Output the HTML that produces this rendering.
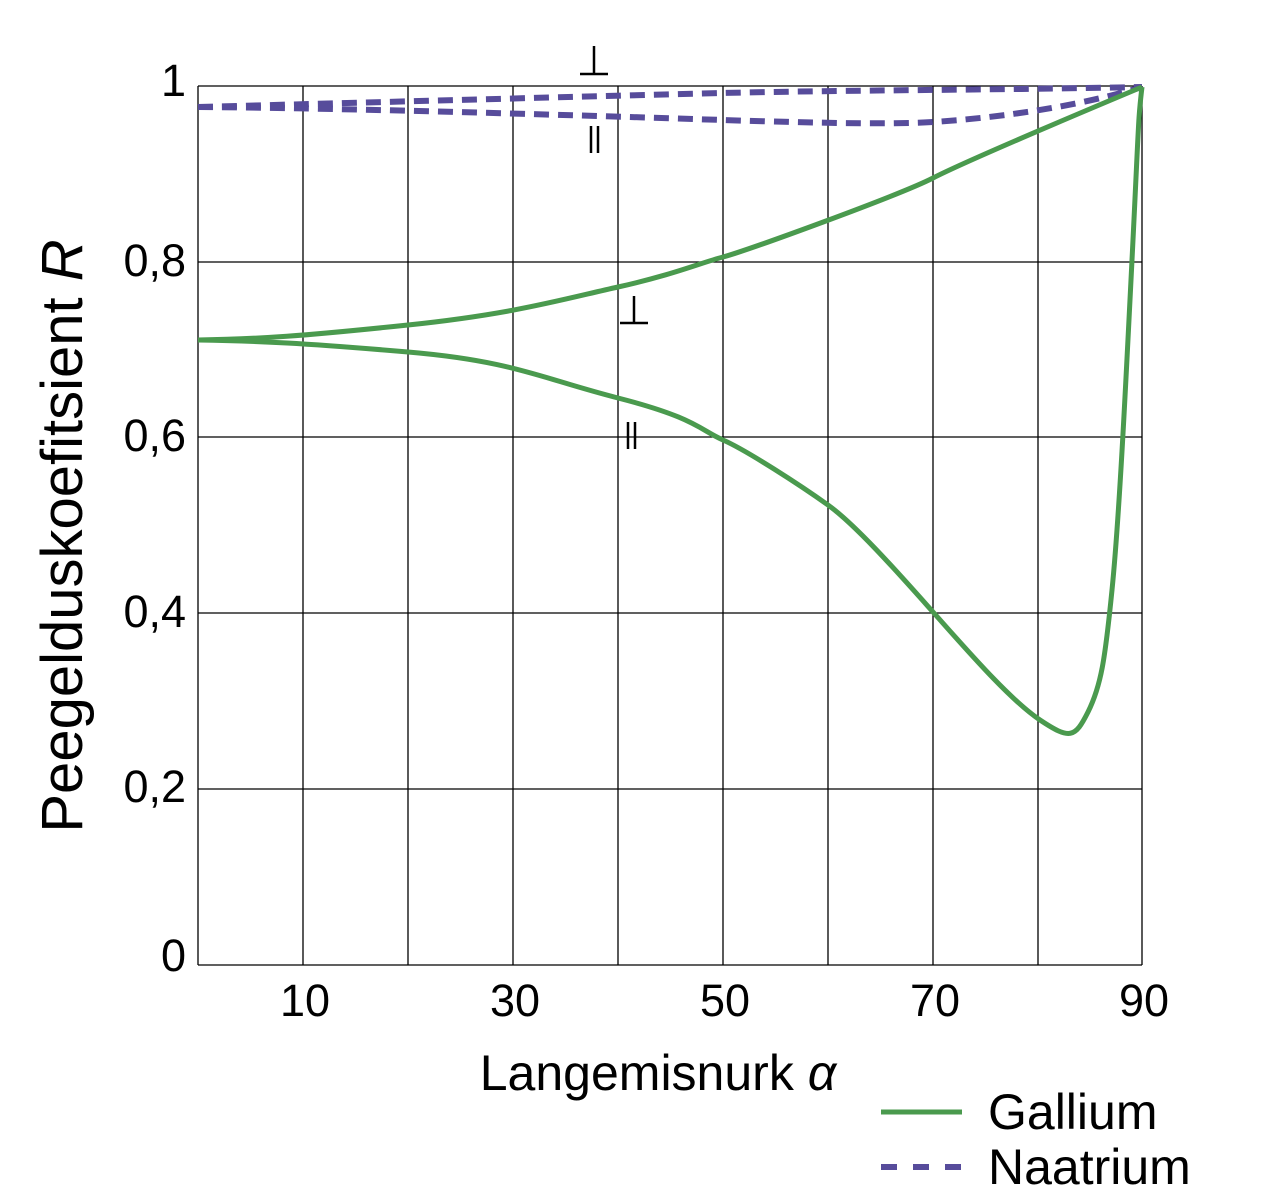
<!DOCTYPE html>
<html><head><style>body{margin:0;background:#fff}</style></head><body>
<svg width="1280" height="1194" xmlns="http://www.w3.org/2000/svg" font-family="Liberation Sans, sans-serif">
<rect width="1280" height="1194" fill="#fff"/>
<g stroke="#000" stroke-width="1.3">
<line x1="198" y1="86" x2="1142" y2="86"/><line x1="198" y1="262" x2="1142" y2="262"/><line x1="198" y1="437" x2="1142" y2="437"/><line x1="198" y1="613" x2="1142" y2="613"/><line x1="198" y1="789" x2="1142" y2="789"/><line x1="198" y1="965" x2="1142" y2="965"/>
<line x1="198" y1="86" x2="198" y2="965"/><line x1="303" y1="86" x2="303" y2="965"/><line x1="408" y1="86" x2="408" y2="965"/><line x1="513" y1="86" x2="513" y2="965"/><line x1="618" y1="86" x2="618" y2="965"/><line x1="723" y1="86" x2="723" y2="965"/><line x1="828" y1="86" x2="828" y2="965"/><line x1="933" y1="86" x2="933" y2="965"/><line x1="1038" y1="86" x2="1038" y2="965"/><line x1="1142" y1="86" x2="1142" y2="965"/>
</g>
<g fill="none" stroke="#574c9b" stroke-width="6" stroke-dasharray="15 9">
<path d="M198,107 C350,103 600,96 723,93 S1000,90 1142,87"/>
<path d="M198,107 C350,108 600,116 723,120 S900,124 933,122 S1060,112 1142,87"/>
</g>
<g fill="none" stroke="#4a9a4e" stroke-width="5">
<path d="M198,340 C260,339 303,336 408,325 S560,300 618,287 S700,263 723,257 S900,195 933,178 S1080,113 1142,87"/>
<path d="M198,340 C260,341 303,343 408,352 S540,378 618,398 S700,430 723,440 S800,485 828,505 S900,575 933,612 S1010,700 1040,720 S1075,738 1088,712 S1105,660 1112,590 S1125,400 1132,260 S1138,120 1142,87"/>
</g>
<g font-size="45" text-anchor="end" fill="#000">
<text x="186" y="96">1</text><text x="186" y="276">0,8</text><text x="186" y="451">0,6</text><text x="186" y="627">0,4</text><text x="186" y="802">0,2</text><text x="186" y="971">0</text>
</g>
<g font-size="45" text-anchor="middle" fill="#000">
<text x="305" y="1016">10</text><text x="515" y="1016">30</text><text x="725" y="1016">50</text><text x="935" y="1016">70</text><text x="1144" y="1016">90</text>
<text x="658" y="1090" font-size="50">Langemisnurk <tspan font-style="italic">α</tspan></text>
</g>
<text transform="translate(82,536) rotate(-90)" font-size="58" text-anchor="middle">Peegelduskoefitsient <tspan font-style="italic">R</tspan></text>
<g stroke="#000" stroke-width="2.5">
<line x1="594" y1="46" x2="594" y2="74"/><line x1="580" y1="74" x2="608" y2="74"/>
<line x1="591" y1="126" x2="591" y2="153"/><line x1="598" y1="126" x2="598" y2="153"/>
<line x1="634" y1="296" x2="634" y2="323"/><line x1="620" y1="323" x2="648" y2="323"/>
<line x1="628" y1="422" x2="628" y2="449"/><line x1="635" y1="422" x2="635" y2="449"/>
</g>
<line x1="881" y1="1112" x2="962" y2="1112" stroke="#4a9a4e" stroke-width="5"/>
<line x1="881" y1="1167" x2="962" y2="1167" stroke="#574c9b" stroke-width="6" stroke-dasharray="16 16"/>
<text x="988" y="1129" font-size="50">Gallium</text>
<text x="988" y="1184" font-size="50">Naatrium</text>
</svg>
</body></html>
